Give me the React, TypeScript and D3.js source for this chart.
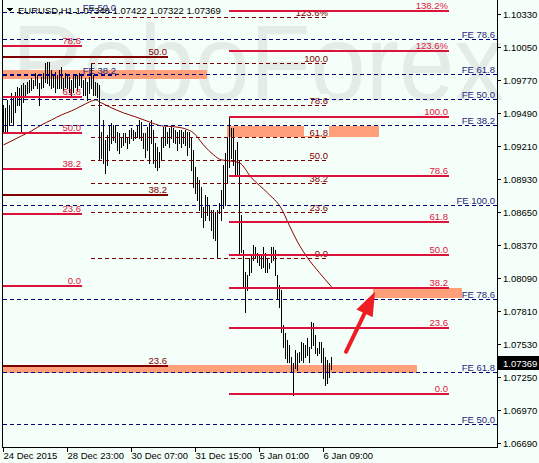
import React from "react";
import * as d3 from "d3";

const W = 539;
const H = 463;

// H1 bars (high / low), one per hour, oldest first
const highs = [
  1.09559, 1.09533, 1.09601, 1.09559, 1.0966, 1.09618, 1.09669, 1.09711, 1.09703, 1.09728,
  1.09745, 1.09728, 1.09754, 1.09771, 1.09788, 1.09771, 1.0983, 1.09813, 1.09745, 1.09796,
  1.0983, 1.09915, 1.09923, 1.09923, 1.09855, 1.09813, 1.09838, 1.09813, 1.09855, 1.09881,
  1.09788, 1.0983, 1.09813, 1.09796, 1.09771, 1.09813, 1.09813, 1.09813, 1.0983, 1.09813,
  1.09771, 1.09788, 1.09754, 1.09796, 1.09915, 1.09813, 1.09754, 1.09745, 1.09728, 1.0933,
  1.09431, 1.09262, 1.09304, 1.09389, 1.09406, 1.09389, 1.09389, 1.0933, 1.09321, 1.09287,
  1.09321, 1.09321, 1.09287, 1.09347, 1.09364, 1.09347, 1.0933, 1.09389, 1.09431, 1.09414,
  1.09321, 1.09321, 1.09372, 1.09406, 1.09431, 1.09347, 1.09236, 1.09202, 1.0916, 1.09287,
  1.09372, 1.09372, 1.0933, 1.09364, 1.09372, 1.09364, 1.09347, 1.0933, 1.09347, 1.09347,
  1.0933, 1.09347, 1.0933, 1.0933, 1.09279, 1.09177, 1.09033, 1.08948, 1.08923, 1.08863,
  1.08694, 1.08795, 1.08778, 1.08711, 1.08668, 1.08668, 1.08651, 1.08668, 1.08728, 1.08838,
  1.0905, 1.09152, 1.09287, 1.09457, 1.09364, 1.09364, 1.09177, 1.09245, 1.09092, 1.08626,
  1.08329, 1.08142, 1.08117, 1.08261, 1.08287, 1.08371, 1.08354, 1.08304, 1.08287, 1.08287,
  1.08354, 1.08304, 1.08261, 1.08219, 1.08354, 1.08354, 1.08329, 1.08117, 1.08032, 1.0799,
  1.07693, 1.07625, 1.07566, 1.07523, 1.07422, 1.07371, 1.07481, 1.07456, 1.07464, 1.07549,
  1.0754, 1.07523, 1.07583, 1.07506, 1.07718, 1.0771, 1.07608, 1.07498, 1.07549, 1.07549,
  1.07498, 1.07422, 1.07396, 1.07371, 1.07422,
];
const lows = [
  1.09321, 1.0933, 1.09321, 1.09389, 1.09414, 1.09389, 1.09499, 1.09559, 1.09559, 1.09321,
  1.09584, 1.09643, 1.0966, 1.09669, 1.09686, 1.09703, 1.09728, 1.09703, 1.09559, 1.09703,
  1.09711, 1.09754, 1.09745, 1.09728, 1.09703, 1.09711, 1.09669, 1.09703, 1.09703, 1.09703,
  1.09686, 1.09711, 1.09703, 1.09669, 1.09643, 1.09669, 1.09711, 1.09686, 1.09728, 1.09711,
  1.09643, 1.09643, 1.09601, 1.0966, 1.09703, 1.09643, 1.09643, 1.09626, 1.09092, 1.09109,
  1.09067, 1.08982, 1.0905, 1.09177, 1.09236, 1.09262, 1.09245, 1.09177, 1.09152, 1.09202,
  1.09219, 1.09245, 1.09194, 1.09236, 1.09279, 1.09262, 1.09279, 1.09287, 1.09279, 1.09262,
  1.09194, 1.09118, 1.09177, 1.09067, 1.09236, 1.09067, 1.09033, 1.09007, 1.09033, 1.09092,
  1.09202, 1.09219, 1.09236, 1.09202, 1.09279, 1.09245, 1.09236, 1.09177, 1.09236, 1.09202,
  1.09236, 1.09219, 1.09135, 1.09202, 1.09007, 1.08863, 1.08812, 1.08753, 1.08668, 1.08609,
  1.08524, 1.08583, 1.08626, 1.08583, 1.08499, 1.08431, 1.08414, 1.0827, 1.08643, 1.08583,
  1.08685, 1.08711, 1.08897, 1.09033, 1.09109, 1.0905, 1.08965, 1.08965, 1.08287, 1.08312,
  1.08007, 1.07803, 1.0799, 1.08117, 1.08142, 1.08244, 1.0827, 1.08227, 1.08202, 1.08176,
  1.08185, 1.08142, 1.08142, 1.08176, 1.08227, 1.08244, 1.08117, 1.07922, 1.07846, 1.07634,
  1.07506, 1.07413, 1.07379, 1.07379, 1.07295, 1.07099, 1.07328, 1.07312, 1.07379, 1.07396,
  1.07379, 1.07422, 1.07439, 1.07379, 1.07498, 1.07523, 1.07456, 1.07439, 1.07456, 1.07379,
  1.07244, 1.07184, 1.07201, 1.07252, 1.07322,
];

// moving average, read at selected bars
const maIndex = [0, 9, 14, 19, 24, 29, 34, 39, 43, 46, 48, 53, 60, 66, 73, 79, 86, 91, 95, 100, 105, 109, 113, 118, 124, 132, 139, 143, 147, 152, 158, 164];
const maValue = [1.09219, 1.09296, 1.09338, 1.09389, 1.09431, 1.09474, 1.09508, 1.0955, 1.09584, 1.09601, 1.09584, 1.09542, 1.09491, 1.09457, 1.09414, 1.09381, 1.09372, 1.09355, 1.09321, 1.09219, 1.09135, 1.09092, 1.09084, 1.09067, 1.0894, 1.08812, 1.08677, 1.08533, 1.08397, 1.08261, 1.08134, 1.08015];

const priceTicks = [1.1033, 1.1005, 1.0977, 1.0949, 1.0921, 1.0893, 1.0865, 1.0837, 1.0809, 1.0781, 1.0753, 1.0725, 1.0697, 1.0669];
const timeTickIndex = [0, 32, 64, 96, 128, 160];
const timeTickLabels = ["24 Dec 2015", "28 Dec 23:00", "30 Dec 07:00", "31 Dec 15:00", "5 Jan 01:00", "6 Jan 09:00"];

const symbolTitle = "EURUSD,H1";
const lastOHLC = [1.07348, 1.07422, 1.07322, 1.07369];

// Fibonacci objects: [price at 0%, price at 100%], [first bar, last bar], levels
const redLeftAnchors = [1.08024, 1.1061];
const redLeftSpan = [0, 39.5];
const redLeftLevels = [0, 23.6, 38.2, 50, 61.8, 78.6];

const maroonAnchors = [1.05005, 1.14926];
const maroonSpan = [0, 82.5];
const maroonLevels = [23.6, 38.2, 50];

const dashAnchors = [1.08261, 1.09915];
const dashSpan = [44, 163];
const dashLevels = [0, 23.6, 38.2, 50, 61.8, 78.6, 100, 123.6];

const redRightAnchors = [1.07108, 1.09459];
const redRightSpan = [113, 223];
const redRightLevels = [0, 23.6, 38.2, 50, 61.8, 78.6, 100, 123.6, 138.2];

const feAAnchors = [1.08702, 1.10508];
const feALevels = [38.2, 50, 61.8, 78.6];
const feBAnchors = [1.04996, 1.08711];
const feBLevels = [50, 61.8, 78.6, 100];
const feCAnchors = [1.08083, 1.12611];
const feCLevels = [38.2, 50];
const feCSpan = [0, 56.5];

// zones: [upper price, lower price], [first bar, last bar]
const zonePrices = [
  [1.09855, 1.09779],
  [1.09381, 1.09287],
  [1.08007, 1.07922],
  [1.07354, 1.07286],
];
const zoneSpans = [
  [0, 102],
  [112, 188],
  [185, 229.5],
  [0, 207],
];

const arrowFrom = [171.5, 1.07464];
const arrowTo = [186, 1.07973];

const FONT = "'Liberation Sans', Arial, sans-serif";
const BG = "#F5FFF9";
const CRIMSON = "#DC143C";
const MAROON = "#800000";
const NAVY = "#000080";
const NAVY_TEXT = "#2A1C7C";

const x = d3.scaleLinear().domain([0, 247]).range([3, 497]);
const y = d3.scaleLinear().domain([1.0669, 1.1033]).range([443, 14]);

const lvlY = (a: number[], lv: number) => Math.round(y(a[0] + ((a[1] - a[0]) * lv) / 100));
const fmtLvl = (lv: number) => (lv > 100 ? lv.toFixed(1) + "%" : lv.toFixed(1));

export default function App() {
  const maLine = d3
    .line<number>()
    .x((d, i) => x(maIndex[i]) + 0.5)
    .y((d) => y(d))
    .curve(d3.curveMonotoneX)(maValue) as string;

  const solidGroup = (anchors: number[], span: number[], levels: number[], color: string, key: string) => {
    const x0 = x(span[0]);
    const x1 = x(span[1]);
    return (
      <g key={key}>
        {levels.map((lv) => {
          const ly = lvlY(anchors, lv);
          return (
            <g key={lv}>
              <line x1={x0} x2={x1} y1={ly} y2={ly} stroke={color} strokeWidth={2} />
              <text x={x1 - 1} y={ly - 2} textAnchor="end" fontSize={9.5} fontFamily={FONT} fill={color}>
                {fmtLvl(lv)}
              </text>
            </g>
          );
        })}
      </g>
    );
  };

  const bars = highs.map((h, i) => {
    const bx = Math.round(x(i)) + 0.5;
    return <line key={i} x1={bx} x2={bx} y1={Math.round(y(h))} y2={Math.round(y(lows[i])) + 1} stroke="#000" strokeWidth={1} />;
  });

  // arrow geometry
  const ax0 = x(arrowFrom[0]);
  const ay0 = y(arrowFrom[1]);
  const ax1 = x(arrowTo[0]);
  const ay1 = y(arrowTo[1]);
  const dx = ax1 - ax0;
  const dy = ay1 - ay0;
  const len = Math.hypot(dx, dy);
  const ux = dx / len;
  const uy = dy / len;
  const hl = 24;
  const hw = 9;
  const bxc = ax1 - ux * hl;
  const byc = ay1 - uy * hl;
  const head = `M${ax1},${ay1} L${bxc - uy * hw},${byc + ux * hw} L${bxc + uy * hw},${byc - ux * hw} Z`;

  const lastY = Math.round(y(lastOHLC[3]));

  return (
    <svg width={W} height={H} style={{ position: "absolute", left: 0, top: 0 }} shapeRendering="crispEdges">
      <rect x={0} y={0} width={W} height={H} fill={BG} />
      <text x={12} y={100} fontSize={108} fontFamily={FONT} fill="#E3ECE7" textLength={492} lengthAdjust="spacingAndGlyphs" shapeRendering="auto">
        RoboForex
      </text>

      {zonePrices.map((z, i) => (
        <rect key={i} x={x(zoneSpans[i][0])} y={Math.round(y(z[0]))} width={x(zoneSpans[i][1]) - x(zoneSpans[i][0])} height={Math.round(y(z[1])) - Math.round(y(z[0]))} fill="#FFA07A" />
      ))}

      {/* label backgrounds for the dashed retracement */}
      {dashLevels.map((lv) => {
        const ly = lvlY(dashAnchors, lv);
        const w = fmtLvl(lv).length * 5.4 + 3;
        return <rect key={lv} x={x(dashSpan[1]) - w} y={ly - 11} width={w} height={10} fill={BG} />;
      })}

      {bars}
      <path d={maLine} fill="none" stroke="#8B0000" strokeWidth={1} shapeRendering="auto" />

      {/* dashed retracement */}
      {dashLevels.map((lv) => {
        const ly = lvlY(dashAnchors, lv) + 0.5;
        return (
          <g key={lv}>
            <line x1={x(dashSpan[0])} x2={x(dashSpan[1])} y1={ly} y2={ly} stroke={MAROON} strokeWidth={1} strokeDasharray="4,3" />
            <text x={x(dashSpan[1]) - 1} y={ly - 2} textAnchor="end" fontSize={9.5} fontFamily={FONT} fill={MAROON}>
              {fmtLvl(lv)}
            </text>
          </g>
        );
      })}

      {/* FE expansions */}
      {[
        [feAAnchors, feALevels],
        [feBAnchors, feBLevels],
      ].map(([a, lvls], k) => (
        <g key={k}>
          {(lvls as number[]).map((lv) => {
            const ly = lvlY(a as number[], lv) + 0.5;
            return (
              <g key={lv}>
                <line x1={3} x2={497} y1={ly} y2={ly} stroke={NAVY} strokeWidth={1} strokeDasharray="4,3" />
                <text x={495} y={ly - 2} textAnchor="end" fontSize={9.5} fontFamily={FONT} fill={NAVY_TEXT}>
                  {"FE " + lv.toFixed(1)}
                </text>
              </g>
            );
          })}
        </g>
      ))}
      {feCLevels.map((lv) => {
        const ly = lvlY(feCAnchors, lv) + 0.5;
        return (
          <g key={lv}>
            <line x1={x(feCSpan[0])} x2={x(feCSpan[1])} y1={ly} y2={ly} stroke={NAVY} strokeWidth={1} strokeDasharray="4,3" />
            <text x={x(feCSpan[1])} y={ly - 2} textAnchor="end" fontSize={9.5} fontFamily={FONT} fill={NAVY_TEXT}>
              {"FE " + lv.toFixed(1)}
            </text>
          </g>
        );
      })}

      {solidGroup(maroonAnchors, maroonSpan, maroonLevels, MAROON, "maroon")}
      {solidGroup(redLeftAnchors, redLeftSpan, redLeftLevels, CRIMSON, "redL")}
      {solidGroup(redRightAnchors, redRightSpan, redRightLevels, CRIMSON, "redR")}

      {/* arrow */}
      <line x1={ax0} y1={ay0} x2={bxc} y2={byc} stroke="#EE1C25" strokeWidth={4} strokeLinecap="round" shapeRendering="auto" />
      <path d={head} fill="#EE1C25" shapeRendering="auto" />

      {/* frame */}
      <line x1={2.5} x2={2.5} y1={0} y2={448} stroke="#000" />
      <line x1={497.5} x2={497.5} y1={0} y2={448} stroke="#000" />
      <line x1={2} x2={498} y1={447.5} y2={447.5} stroke="#000" />

      {/* price axis */}
      {priceTicks.map((p) => {
        const ty = Math.round(y(p)) + 0.5;
        return (
          <g key={p}>
            <line x1={497} x2={501} y1={ty} y2={ty} stroke="#000" />
            <text x={503} y={ty + 3.5} fontSize={9.5} fontFamily={FONT} fill="#000">
              {p.toFixed(5)}
            </text>
          </g>
        );
      })}
      <rect x={498} y={lastY - 7} width={41} height={14} fill="#000" />
      <text x={503} y={lastY + 3.5} fontSize={9.5} fontFamily={FONT} fill="#fff">
        {lastOHLC[3].toFixed(5)}
      </text>

      {/* time axis */}
      {timeTickIndex.map((ti, k) => {
        const tx = Math.round(x(ti)) + 0.5;
        return (
          <g key={ti}>
            <line x1={tx} x2={tx} y1={447} y2={452} stroke="#000" />
            <text x={tx} y={459} fontSize={9.5} fontFamily={FONT} fill="#000">
              {timeTickLabels[k]}
            </text>
          </g>
        );
      })}

      {/* title */}
      <path d="M7,8 L13,8 L10,12 Z" fill="#000" />
      <text x={18} y={14} fontSize={9.5} fontFamily={FONT} fill="#000">
        {symbolTitle + "  " + lastOHLC.map((v) => v.toFixed(5)).join(" ")}
      </text>
    </svg>
  );
}
